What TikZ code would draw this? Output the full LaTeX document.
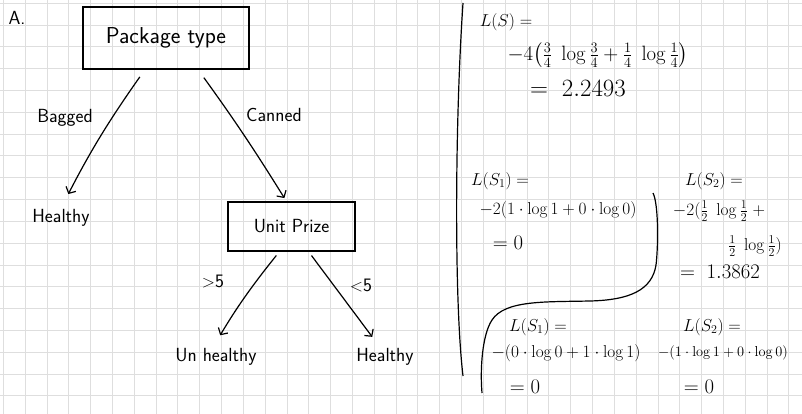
\documentclass[tikz,border=0pt]{standalone}
\usepackage{amsmath}
\usetikzlibrary{arrows.meta}
\tikzset{
	gridline/.style={line width=0.8pt, color=black!13},
	pen/.style={line width=1.2pt, color=black},
	arr/.style={pen, -{Straight Barb[length=5pt,width=11pt]}},
	hand/.style={font=\sffamily\fontsize{19}{21}\selectfont, inner sep=1pt},
	eq/.style={font=\fontsize{18}{20}\selectfont, inner sep=0pt},
	box/.style={draw, line width=1.1pt, inner sep=0pt}
}

\begin{document}
\begin{tikzpicture}[x=1pt, y=-1pt]
			%%%%% START %%%%%
			\useasboundingbox (0, 0) rectangle (802, 414);
			\fill[white] (0, 0) rectangle (802, 414);
			
			\foreach \i in {0,...,36}
				\draw[gridline] ({3.3+21.82*\i}, 0) -- ({3.3+21.82*\i}, 414);
			\foreach \j in {0,...,18}
				\draw[gridline] (0, {3.3+21.8*\j}) -- (802, {3.3+21.8*\j});
			
			\node[hand] (part) at (17, 18) {A.};
			
			% tree
			\node[box, hand, minimum width=166pt, minimum height=62pt, font=\sffamily\fontsize{23}{25}\selectfont] (pkg) at (166, 38) {Package type};
			\node[box, hand, minimum width=127pt, minimum height=49pt] (unit) at (291.5, 226.5) {Unit Prize};
			
			\node[hand] (leafa) at (61, 218) {Healthy};
			\node[hand] (leafb) at (216, 357) {Un healthy};
			\node[hand] (leafc) at (385, 357) {Healthy};
			
			\draw[arr, shorten <=9pt, shorten >=16pt] ([xshift=-21pt]pkg.south) to[bend right=4] ([xshift=0pt]leafa.north);
			\draw[arr, shorten <=10pt, shorten >=4pt] ([xshift=32pt]pkg.south) to[bend left=2] ([xshift=-5pt]unit.north);
			\draw[arr, shorten <=5pt, shorten >=14pt] ([xshift=-12pt]unit.south) to[bend right=4] ([xshift=-3pt]leafb.north);
			\draw[arr, shorten <=5pt, shorten >=13pt] ([xshift=17pt]unit.south) -- ([xshift=-5pt]leafc.north);
			
			\node[hand] (bagged) at (65, 118) {Bagged};
			\node[hand] (canned) at (274, 115) {Canned};
			\node[hand] (gt) at (213, 281) {$>$5};
			\node[hand] (lt) at (361, 285) {$<$5};
			
			% entropies
			\draw[pen] (463, 3) .. controls (455, 120) and (454, 300) .. (463, 376);
			\draw[pen] (653, 193) .. controls (659, 205) and (658, 250) .. (656, 265)
				.. controls (652, 290) and (630, 300) .. (590, 301)
				.. controls (545, 302) and (505, 300) .. (492, 320)
				.. controls (482, 335) and (480, 370) .. (482, 393);
			
			\node[eq] (ls) at (506, 22) {$L(S) =$};
			\node[eq, font=\fontsize{20}{22}\selectfont] (lsa) at (598, 55) {$-4\bigl(\tfrac34\;\log\tfrac34+\tfrac14\;\log\tfrac14\bigr)$};
			\node[eq, font=\fontsize{24}{26}\selectfont] (lsb) at (578, 88) {$=\;2.2493$};
			
			\node[eq] (lp) at (500, 181) {$L(S_1) =$};
			\node[eq, font=\fontsize{19}{21}\selectfont] (lpa) at (558, 210) {$-2(1\cdot\log 1+0\cdot\log 0)$};
			\node[eq, font=\fontsize{20}{22}\selectfont] (lpb) at (508, 243) {$=0$};
			
			\node[eq] (lq) at (714, 181) {$L(S_2) =$};
			\node[eq] (lqa) at (719, 211) {$-2(\tfrac12\;\log\tfrac12\;+$};
			\node[eq] (lqb) at (755, 246) {$\tfrac12\;\log\tfrac12)$};
			\node[eq, font=\fontsize{20}{22}\selectfont] (lqc) at (720, 272) {$=\;1.3862$};
			
			\node[eq] (lr) at (538, 327) {$L(S_1) =$};
			\node[eq, font=\fontsize{17.5}{20}\selectfont] (lra) at (566, 353) {$-(0\cdot\log 0+1\cdot\log 1)$};
			\node[eq, font=\fontsize{20}{22}\selectfont] (lrb) at (525, 387) {$=0$};
			
			\node[eq] (lt2) at (712, 327) {$L(S_2) =$};
			\node[eq, font=\fontsize{15}{17}\selectfont] (lta) at (723, 353) {$-(1\cdot\log 1+0\cdot\log 0)$};
			\node[eq, font=\fontsize{20}{22}\selectfont] (ltb) at (699, 387) {$=0$};
			%%%%% END %%%%%
\end{tikzpicture}
\end{document}
